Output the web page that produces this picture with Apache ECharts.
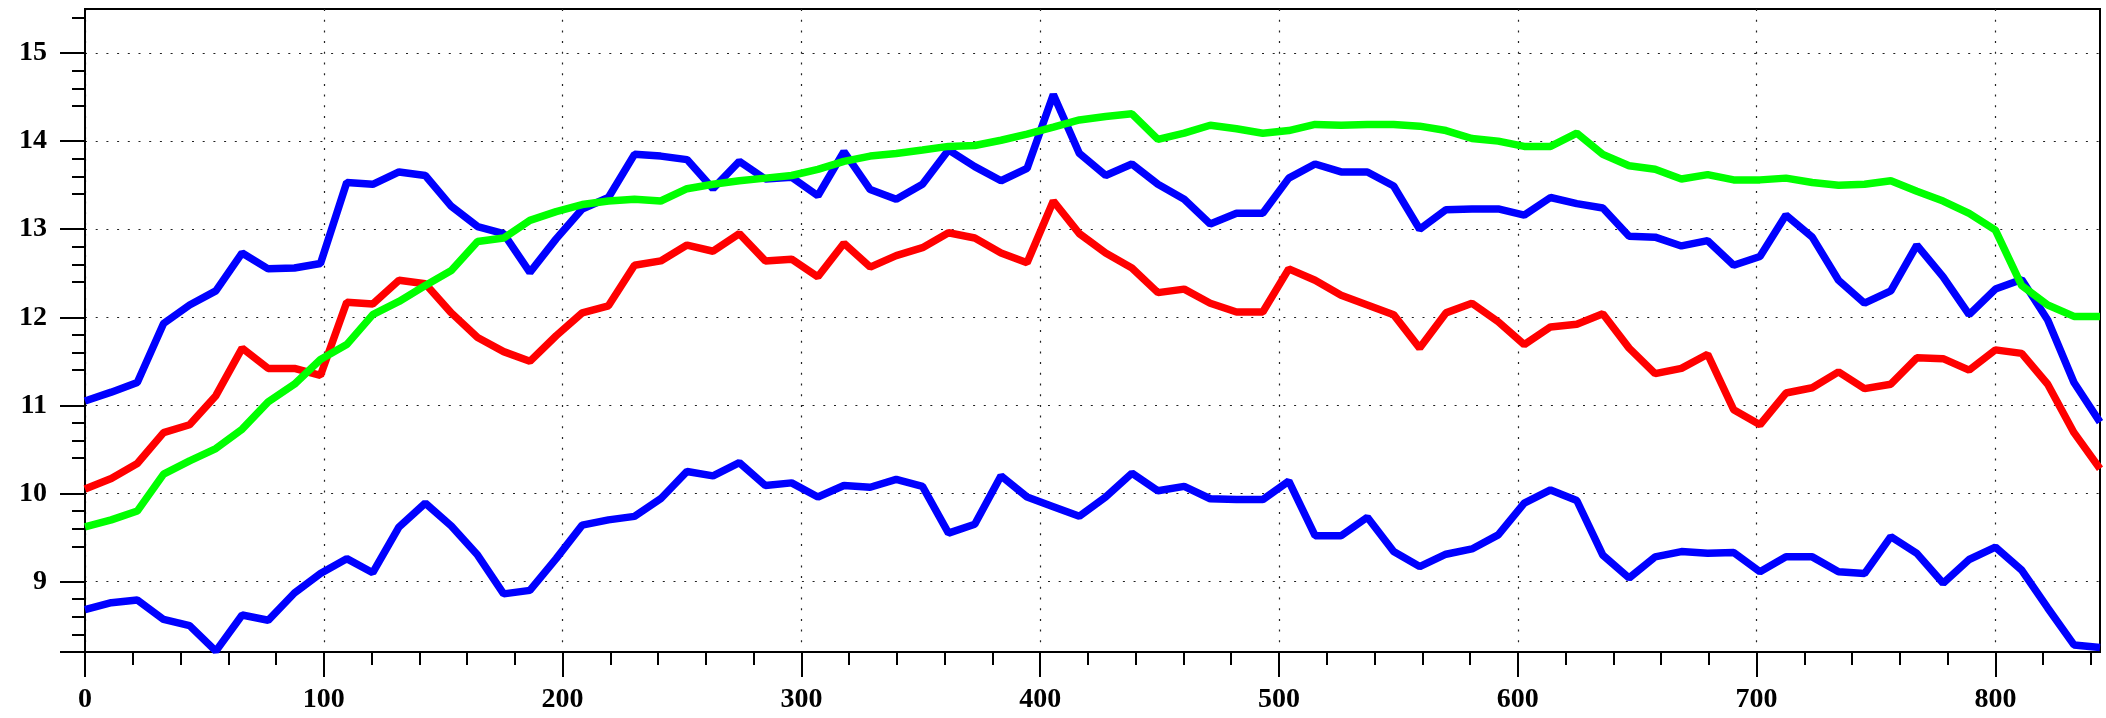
<!DOCTYPE html>
<html>
<head>
<meta charset="utf-8">
<script src="https://cdn.jsdelivr.net/npm/echarts@6/dist/echarts.min.js"></script>
<style>
  html, body { margin: 0; padding: 0; background: #fff; }
  #chart { width: 2106px; height: 718px; }
</style>
</head>
<body>
<div id="chart"></div>
<script>
// x positions of the samples
const xValues = [0, 11.0, 21.9, 32.9, 43.8, 54.8, 65.8, 76.7, 87.7, 98.6,
  109.6, 120.5, 131.5, 142.5, 153.4, 164.4, 175.3, 186.3, 197.3, 208.2,
  219.2, 230.1, 241.1, 252.1, 263.0, 274.0, 284.9, 295.9, 306.9, 317.8,
  328.8, 339.7, 350.7, 361.6, 372.6, 383.6, 394.5, 405.5, 416.4, 427.4,
  438.4, 449.3, 460.3, 471.2, 482.2, 493.2, 504.1, 515.1, 526.0, 537.0,
  548.0, 558.9, 569.9, 580.8, 591.8, 602.7, 613.7, 624.7, 635.6, 646.6,
  657.5, 668.5, 679.5, 690.4, 701.4, 712.3, 723.3, 734.3, 745.2, 756.2,
  767.1, 778.1, 789.0, 800.0, 811.0, 821.9, 832.9, 843.8];

const upperBlue = [11.05, 11.15, 11.26, 11.93, 12.14, 12.30, 12.73, 12.55, 12.56, 12.61,
  13.53, 13.51, 13.65, 13.61, 13.26, 13.03, 12.95, 12.51, 12.89, 13.23,
  13.36, 13.85, 13.83, 13.79, 13.46, 13.77, 13.57, 13.59, 13.38, 13.88,
  13.45, 13.34, 13.51, 13.90, 13.71, 13.55, 13.69, 14.53, 13.86, 13.61,
  13.74, 13.51, 13.34, 13.06, 13.18, 13.18, 13.58, 13.74, 13.65, 13.65,
  13.49, 13.00, 13.22, 13.23, 13.23, 13.16, 13.36, 13.29, 13.24, 12.92,
  12.91, 12.81, 12.87, 12.59, 12.69, 13.16, 12.91, 12.42, 12.16, 12.30,
  12.82, 12.46, 12.03, 12.32, 12.43, 11.97, 11.26, 10.81];

const redLine = [10.05, 10.17, 10.34, 10.69, 10.78, 11.11, 11.65, 11.42, 11.42, 11.34,
  12.17, 12.15, 12.42, 12.38, 12.05, 11.77, 11.61, 11.50, 11.79, 12.05,
  12.13, 12.59, 12.64, 12.82, 12.75, 12.95, 12.64, 12.66, 12.46, 12.84,
  12.57, 12.70, 12.79, 12.96, 12.90, 12.73, 12.62, 13.32, 12.95, 12.73,
  12.56, 12.28, 12.32, 12.16, 12.06, 12.06, 12.55, 12.42, 12.25, 12.14,
  12.03, 11.65, 12.05, 12.16, 11.95, 11.69, 11.89, 11.92, 12.04, 11.65,
  11.36, 11.42, 11.58, 10.95, 10.78, 11.14, 11.20, 11.38, 11.19, 11.24,
  11.54, 11.53, 11.40, 11.63, 11.59, 11.24, 10.69, 10.28];

const greenLine = [9.62, 9.70, 9.80, 10.22, 10.37, 10.51, 10.73, 11.04, 11.24, 11.52,
  11.69, 12.03, 12.18, 12.36, 12.53, 12.86, 12.90, 13.10, 13.20, 13.28,
  13.32, 13.34, 13.32, 13.46, 13.51, 13.55, 13.58, 13.61, 13.68, 13.77,
  13.83, 13.86, 13.90, 13.94, 13.95, 14.01, 14.08, 14.16, 14.24, 14.28,
  14.31, 14.02, 14.09, 14.18, 14.14, 14.09, 14.12, 14.19, 14.18, 14.19,
  14.19, 14.17, 14.12, 14.03, 14.00, 13.94, 13.94, 14.09, 13.85, 13.72,
  13.68, 13.57, 13.62, 13.56, 13.56, 13.58, 13.53, 13.50, 13.51, 13.55,
  13.43, 13.32, 13.18, 12.99, 12.36, 12.14, 12.01, 12.01];

const lowerBlue = [8.68, 8.76, 8.79, 8.57, 8.50, 8.21, 8.62, 8.56, 8.87, 9.09,
  9.26, 9.10, 9.62, 9.89, 9.63, 9.30, 8.86, 8.90, 9.26, 9.64,
  9.70, 9.74, 9.94, 10.25, 10.20, 10.35, 10.09, 10.12, 9.96, 10.09,
  10.07, 10.16, 10.08, 9.55, 9.65, 10.20, 9.96, 9.85, 9.74, 9.96,
  10.23, 10.03, 10.08, 9.94, 9.93, 9.93, 10.14, 9.52, 9.52, 9.73,
  9.34, 9.17, 9.31, 9.37, 9.53, 9.89, 10.04, 9.92, 9.30, 9.04,
  9.28, 9.34, 9.32, 9.33, 9.11, 9.28, 9.28, 9.11, 9.09, 9.51,
  9.32, 8.98, 9.25, 9.39, 9.13, 8.70, 8.28, 8.25];

const xTicks = [0, 100, 200, 300, 400, 500, 600, 700, 800];
const yTicks = [9, 10, 11, 12, 13, 14, 15];
const yTickMarks = [8.2, 9, 10, 11, 12, 13, 14, 15];

function pairs(ys) { return ys.map((y, i) => [xValues[i], y]); }

const labelFont = {
  fontFamily: "'Liberation Serif', 'DejaVu Serif', serif",
  fontWeight: 'bold',
  fontSize: 28,
  color: '#000'
};

const chart = echarts.init(document.getElementById('chart'), null, { renderer: 'canvas' });
chart.setOption({
  animation: false,
  backgroundColor: '#fff',
  grid: {
    left: 85, right: 6, top: 9, bottom: 66,
    show: true, borderColor: '#000', borderWidth: 2, backgroundColor: 'transparent'
  },
  xAxis: {
    type: 'value',
    min: 0, max: 843.8, interval: 100,
    axisLine: { show: true, onZero: false, lineStyle: { color: '#000', width: 2 } },
    axisTick: { show: true, length: 25, customValues: xTicks, lineStyle: { color: '#000', width: 2 } },
    minorTick: { show: true, splitNumber: 5, length: 13, lineStyle: { color: '#000', width: 2 } },
    axisLabel: Object.assign({ customValues: xTicks, margin: 34 }, labelFont),
    splitLine: { show: true, lineStyle: { color: '#222', width: 1.2, type: [2, 8.7] } },
    minorSplitLine: { show: false }
  },
  yAxis: {
    type: 'value',
    min: 8.2, max: 15.5, interval: 1,
    axisLine: { show: true, onZero: false, lineStyle: { color: '#000', width: 2 } },
    axisTick: { show: true, length: 25, customValues: yTickMarks, lineStyle: { color: '#000', width: 2 } },
    minorTick: { show: true, splitNumber: 5, length: 13, lineStyle: { color: '#000', width: 2 } },
    axisLabel: Object.assign({ customValues: yTicks, margin: 38 }, labelFont),
    splitLine: { show: true, lineStyle: { color: '#222', width: 1.2, type: [2, 8.7] } },
    minorSplitLine: { show: false }
  },
  series: [
    { type: 'line', data: pairs(upperBlue), symbol: 'none', lineStyle: { color: '#0000ff', width: 7.5 }, z: 2 },
    { type: 'line', data: pairs(lowerBlue), symbol: 'none', lineStyle: { color: '#0000ff', width: 7.5 }, z: 2 },
    { type: 'line', data: pairs(redLine), symbol: 'none', lineStyle: { color: '#ff0000', width: 7.5 }, z: 3 },
    { type: 'line', data: pairs(greenLine), symbol: 'none', lineStyle: { color: '#00ff00', width: 7.5 }, z: 4 }
  ]
});
</script>
</body>
</html>
